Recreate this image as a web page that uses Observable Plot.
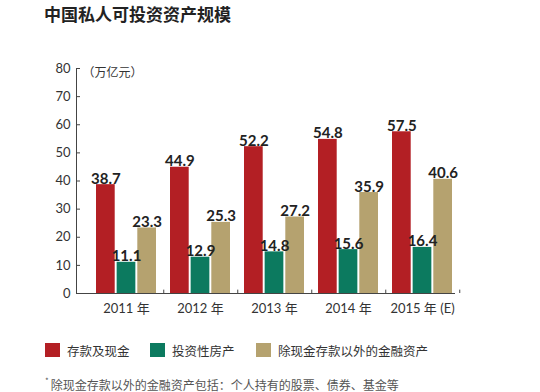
<!DOCTYPE html>
<html>
<head>
<meta charset="utf-8">
<script src="https://cdn.jsdelivr.net/npm/d3@7"></script>
<script src="https://cdn.jsdelivr.net/npm/@observablehq/plot@0.6"></script>
<style>
  html, body { margin: 0; padding: 0; background: #fff; }
  body { width: 540px; height: 392px; position: relative; overflow: hidden;
         font-family: Lato, "Noto Sans CJK SC", sans-serif; color: #333; }
  #title { height: 30px; line-height: 27px; padding-left: 44px; font-size: 17px; font-weight: bold;
           color: #222; font-family: "Noto Sans CJK SC", sans-serif; }
  #chart svg { display: block; }
  .legend-item { position: absolute; top: 343px; height: 14px; display: flex; align-items: center;
                 font-size: 12.5px; color: #333; font-family: "Noto Sans CJK SC", sans-serif; white-space: nowrap; }
  .legend-item .sw { width: 15px; height: 14px; margin-right: 7px; }
  #note { position: absolute; left: 45px; top: 375px; font-size: 12px; color: #555;
          font-family: "Noto Sans CJK SC", sans-serif; white-space: nowrap; }
  #note sup { font-size: 8px; vertical-align: 6px; margin-right: 2px; }
</style>
</head>
<body>
<div id="title">中国私人可投资资产规模</div>
<div id="chart"></div>
<div id="legend"></div>
<div id="note"><sup>*</sup>除现金存款以外的金融资产包括：个人持有的股票、债券、基金等</div>
<script>
const years = ["2011 年", "2012 年", "2013 年", "2014 年", "2015 年 (E)"];
const seriesNames = ["存款及现金", "投资性房产", "除现金存款以外的金融资产"];
const deposits = [38.7, 44.9, 52.2, 54.8, 57.5];
const property = [11.1, 12.9, 14.8, 15.6, 16.4];
const otherFinancial = [23.3, 25.3, 27.2, 35.9, 40.6];
const yTicks = [0, 10, 20, 30, 40, 50, 60, 70, 80];
const unitLabel = "（万亿元）";
const colors = ["#b31f24", "#0c7a5f", "#b5a26f"];

const valuesBySeries = [deposits, property, otherFinancial];
const data = valuesBySeries.flatMap((vals, s) =>
  vals.map((v, i) => ({year: years[i], series: seriesNames[s], s, value: v})));

// group geometry (pixels within each year band)
const bandW = 60, barW = 18.7, gap = (bandW - 3 * barW) / 2;
const step = barW + gap;
const lbl = {fontSize: 15, fontWeight: "bold", fill: "#222", fontFamily: "Lato, sans-serif"};

const barMarks = [], textMarks = [];
valuesBySeries.forEach((vals, s) => {
  const sub = data.filter(d => d.s === s);
  barMarks.push(Plot.barY(sub, {
    x: "year", y: "value", fill: colors[s],
    insetLeft: s * step, insetRight: bandW - s * step - barW
  }));
  textMarks.push(Plot.text(sub, {
    x: "year", y: "value", text: d => d.value.toFixed(1),
    dx: (s - 1) * step, dy: -1, lineAnchor: "bottom", ...lbl
  }));
});

const chart = Plot.plot({
  width: 540,
  height: 295,
  marginLeft: 76,
  marginRight: 85,
  marginTop: 38,
  marginBottom: 32,
  style: {fontFamily: "Lato, 'Noto Sans CJK SC', sans-serif", fontSize: "13px", color: "#333", background: "#fff"},
  x: {domain: years, paddingInner: 0.1946, paddingOuter: 0.1409, align: 0.857},
  y: {domain: [0, 80], ticks: yTicks},
  marks: [
    ...barMarks,
    Plot.frame({anchor: "left", stroke: "#444"}),
    Plot.ruleY([0], {stroke: "#444"}),
    Plot.ruleX(years, {x: d => d, y1: 0, y2: 1.2, dx: bandW / 2 + (74.5 - bandW) / 2, stroke: "#444"}),
    Plot.axisY({ticks: yTicks, tickSize: 4, insetLeft: 4, tickPadding: 6, label: null, stroke: "#444", fontSize: 13}),
    Plot.axisX({tickSize: 0, tickPadding: 10, label: null, fontSize: 13,
                fontFamily: "Lato, 'Noto Sans CJK SC', sans-serif"}),
    Plot.text([unitLabel], {frameAnchor: "top-left", dx: 6, textAnchor: "start", fontSize: 12,
                            fill: "#333", fontFamily: "'Noto Sans CJK SC', sans-serif"}),
    ...textMarks
  ]
});
document.getElementById("chart").appendChild(chart);

// legend
const legendX = [45, 150, 256];
const legend = document.getElementById("legend");
seriesNames.forEach((name, i) => {
  const item = document.createElement("div");
  item.className = "legend-item";
  item.style.left = legendX[i] + "px";
  item.innerHTML = `<span class="sw" style="background:${colors[i]}"></span><span>${name}</span>`;
  legend.appendChild(item);
});
</script>
</body>
</html>
